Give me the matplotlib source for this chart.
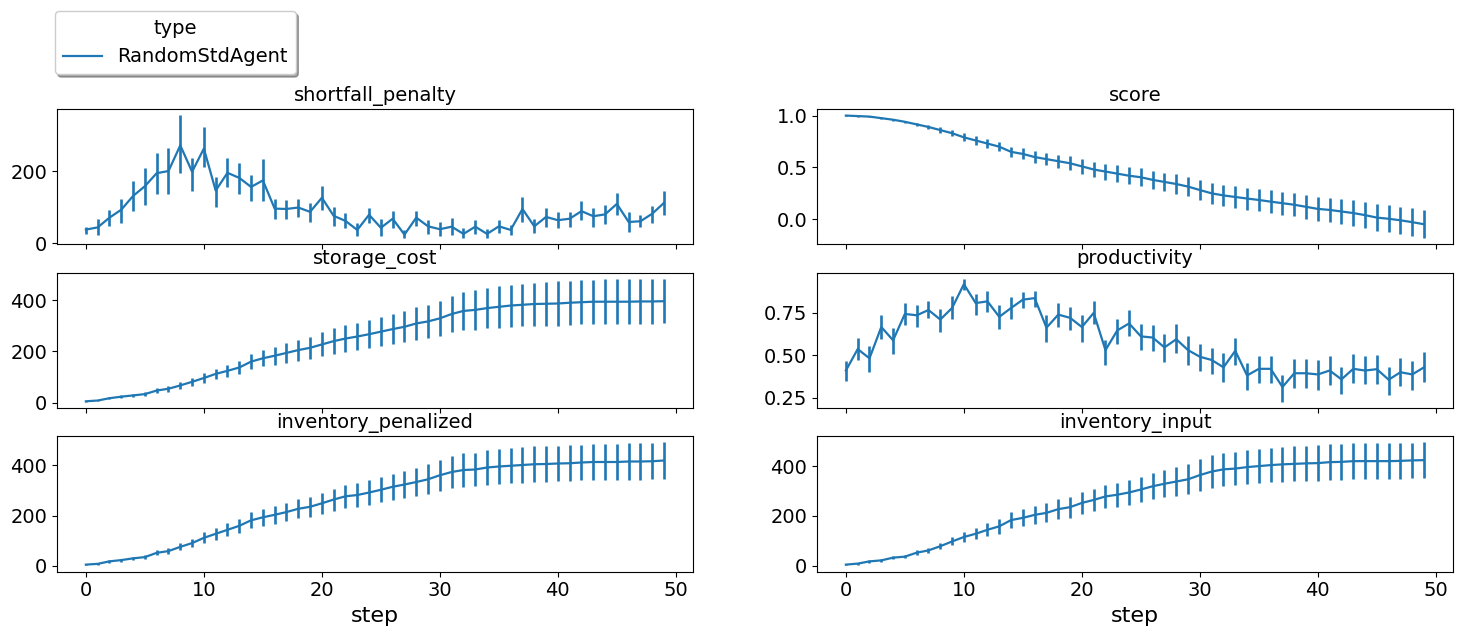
import matplotlib
matplotlib.use("Agg")
import matplotlib.pyplot as plt
import numpy as np

steps = list(range(50))

shortfall_mean = [38, 44, 71, 93, 131, 158, 194, 200, 271, 198, 262, 146, 195, 181, 156, 174, 96, 95, 99, 87,
                  126, 76, 62, 37, 79, 43, 68, 24, 71, 47, 39, 46, 26, 46, 26, 47, 37, 95, 47, 73,
                  64, 68, 89, 75, 80, 109, 59, 61, 82, 112]
shortfall_hi = [46, 67, 91, 123, 173, 208, 249, 263, 354, 236, 321, 184, 236, 222, 190, 233, 123, 121, 123, 112,
                159, 100, 84, 55, 99, 66, 90, 38, 90, 64, 59, 71, 41, 64, 40, 64, 50, 129, 67, 99,
                87, 88, 116, 99, 106, 140, 86, 78, 102, 146]
shortfall_lo = [27, 24, 48, 57, 89, 107, 136, 136, 194, 144, 210, 100, 155, 137, 117, 117, 68, 68, 73, 58,
                91, 48, 41, 21, 57, 20, 43, 14, 47, 27, 21, 22, 15, 27, 14, 29, 24, 58, 29, 46,
                41, 46, 64, 46, 53, 77, 32, 46, 55, 78]

score_mean = [1.0, 0.995, 0.99, 0.975, 0.96, 0.94, 0.915, 0.89, 0.86, 0.83,
              0.79, 0.76, 0.73, 0.70, 0.65, 0.63, 0.60, 0.58, 0.56, 0.54,
              0.51, 0.48, 0.46, 0.44, 0.42, 0.405, 0.38, 0.36, 0.34, 0.315,
              0.282, 0.25, 0.23, 0.215, 0.20, 0.186, 0.17, 0.155, 0.14, 0.12,
              0.10, 0.09, 0.075, 0.06, 0.04, 0.016, 0.005, -0.01, -0.028, -0.048]
score_err = [0.002, 0.004, 0.006, 0.008, 0.01, 0.012, 0.016, 0.02, 0.025, 0.03,
             0.038, 0.04, 0.042, 0.045, 0.05, 0.053, 0.056, 0.06, 0.064, 0.068,
             0.072, 0.074, 0.077, 0.08, 0.083, 0.085, 0.087, 0.09, 0.092, 0.094,
             0.096, 0.099, 0.101, 0.104, 0.106, 0.109, 0.11, 0.111, 0.113, 0.114,
             0.115, 0.118, 0.12, 0.123, 0.125, 0.128, 0.13, 0.131, 0.133, 0.135]

storage_mean = [5, 8, 17, 23, 28, 33, 47, 54, 67, 81, 96, 112, 124, 137, 160, 173, 183, 194, 205, 214,
                227, 240, 250, 258, 267, 277, 287, 296, 309, 317, 329, 346, 358, 362, 369, 374, 379, 382, 385, 386,
                387, 390, 392, 394, 394, 394, 394, 395, 395, 396]
storage_err = [2, 3, 4, 5, 6, 7, 9, 11, 13, 16, 19, 21, 24, 27, 29, 32, 35, 38, 41, 44,
               47, 50, 52, 54, 55, 56, 58, 60, 63, 66, 69, 72, 75, 77, 79, 81, 82, 83, 84, 85,
               86, 86, 86, 86, 87, 87, 87, 87, 87, 87]

productivity_mean = [0.411, 0.537, 0.483, 0.667, 0.589, 0.744, 0.736, 0.767, 0.711, 0.779,
                     0.919, 0.808, 0.818, 0.727, 0.779, 0.828, 0.837, 0.663, 0.740, 0.721,
                     0.667, 0.750, 0.531, 0.647, 0.688, 0.612, 0.605, 0.547, 0.595, 0.531,
                     0.492, 0.473, 0.430, 0.527, 0.382, 0.421, 0.421, 0.314, 0.395, 0.395,
                     0.388, 0.411, 0.359, 0.421, 0.411, 0.419, 0.357, 0.401, 0.388, 0.430]
productivity_hi = [0.469, 0.601, 0.554, 0.736, 0.659, 0.810, 0.798, 0.822, 0.771, 0.847,
                   0.950, 0.862, 0.876, 0.795, 0.841, 0.872, 0.880, 0.736, 0.810, 0.783,
                   0.740, 0.822, 0.589, 0.717, 0.769, 0.682, 0.678, 0.624, 0.682, 0.614,
                   0.566, 0.543, 0.512, 0.605, 0.453, 0.498, 0.498, 0.386, 0.479, 0.479,
                   0.473, 0.494, 0.434, 0.508, 0.498, 0.502, 0.434, 0.484, 0.465, 0.521]
productivity_lo = [0.349, 0.473, 0.401, 0.597, 0.508, 0.676, 0.667, 0.719, 0.640, 0.717,
                   0.882, 0.740, 0.756, 0.653, 0.717, 0.779, 0.783, 0.581, 0.669, 0.647,
                   0.581, 0.686, 0.446, 0.570, 0.612, 0.531, 0.527, 0.459, 0.512, 0.446,
                   0.411, 0.391, 0.343, 0.446, 0.298, 0.337, 0.337, 0.227, 0.310, 0.310,
                   0.298, 0.324, 0.275, 0.337, 0.329, 0.329, 0.269, 0.318, 0.298, 0.343]

invpen_mean = [4, 7, 17, 22, 29, 34, 51, 58, 75, 90, 111, 127, 143, 159, 181, 193, 203, 214, 227, 235,
               249, 264, 277, 282, 292, 303, 315, 324, 334, 345, 361, 374, 382, 384, 392, 396, 399, 402, 405, 406,
               408, 409, 412, 414, 414, 414, 416, 416, 417, 420]
invpen_err = [3, 4, 5, 6, 7, 8, 10, 12, 14, 17, 22, 24, 26, 29, 32, 34, 35, 36, 38, 40,
              41, 44, 46, 47, 49, 50, 52, 54, 56, 59, 62, 64, 66, 67, 68, 70, 70, 71, 71, 71,
              71, 71, 71, 72, 72, 72, 72, 72, 72, 72]

invin_mean = [4, 8, 17, 21, 32, 36, 52, 61, 78, 97, 115, 128, 144, 158, 183, 192, 204, 212, 227, 235,
              252, 264, 278, 285, 294, 306, 319, 329, 338, 347, 364, 378, 387, 390, 396, 400, 404, 407, 409, 411,
              412, 416, 417, 420, 420, 420, 420, 421, 423, 424]
invin_err = [3, 4, 5, 6, 7, 7, 9, 11, 13, 16, 20, 23, 26, 29, 32, 34, 36, 38, 40, 42,
             43, 45, 47, 48, 50, 51, 53, 55, 57, 60, 63, 65, 66, 67, 68, 68, 69, 70, 70, 71,
             71, 71, 71, 71, 71, 71, 71, 71, 71, 71]

series_type = "RandomStdAgent"
color = "#1f77b4"

fig, axes = plt.subplots(3, 2, figsize=(14.61, 6.35), dpi=100, sharex=True)
fig.subplots_adjust(left=0.039, right=0.9945, top=0.828, bottom=0.100, wspace=0.195, hspace=0.21)


def draw(ax, title, mean, lo=None, hi=None, err=None):
    mean = np.asarray(mean, dtype=float)
    if err is not None:
        yerr = np.asarray(err, dtype=float)
    else:
        yerr = np.vstack([mean - np.asarray(lo, float), np.asarray(hi, float) - mean])
    line, = ax.plot(steps, mean, color=color, lw=1.6, label=series_type)
    ax.errorbar(steps, mean, yerr=yerr, fmt="none", ecolor=color, elinewidth=1.9, capsize=0)
    ax.set_title(title, fontsize=14)
    ax.tick_params(labelsize=14)
    return line


line = draw(axes[0, 0], "shortfall_penalty", shortfall_mean, shortfall_lo, shortfall_hi)
draw(axes[0, 1], "score", score_mean, err=score_err)
draw(axes[1, 0], "storage_cost", storage_mean, err=storage_err)
draw(axes[1, 1], "productivity", productivity_mean, productivity_lo, productivity_hi)
draw(axes[2, 0], "inventory_penalized", invpen_mean, err=invpen_err)
draw(axes[2, 1], "inventory_input", invin_mean, err=invin_err)

axes[0, 0].set_yticks([0, 200])
axes[0, 1].set_yticks([0.0, 0.5, 1.0])
axes[1, 1].set_yticks([0.25, 0.5, 0.75])
for ax in axes[2]:
    ax.set_xlabel("step", fontsize=16)
    ax.set_xticks([0, 10, 20, 30, 40, 50])

leg = fig.legend([line], [series_type], title="type", loc="upper left",
                 bbox_to_anchor=(55 / 1461, 1 - 11 / 635), borderaxespad=0,
                 fontsize=14, title_fontsize=14, shadow=True, frameon=True)

fig.savefig("out.png", dpi=100)
